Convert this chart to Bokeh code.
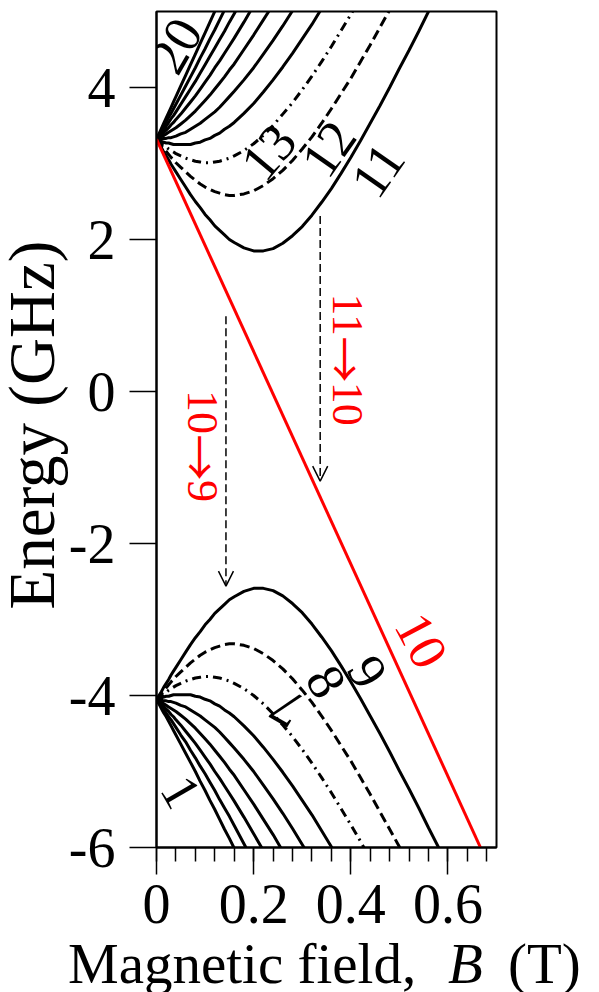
from bokeh.plotting import figure
from bokeh.models import Label, Arrow, OpenHead, FixedTicker, Range1d, Div
from bokeh.layouts import column, row
from bokeh.embed import file_html
from bokeh.resources import INLINE

# ---------------- data (magnetic field in T, energy in GHz) ----------------
B_GRID = [0, 0.005, 0.01, 0.015, 0.02, 0.025, 0.03, 0.035, 0.04, 0.05, 0.06, 0.07, 0.08, 0.09,
          0.10, 0.11, 0.12, 0.13, 0.14, 0.15, 0.16, 0.18, 0.20, 0.22, 0.24, 0.26, 0.28, 0.30,
          0.32, 0.34, 0.36, 0.38, 0.40, 0.42, 0.44, 0.46, 0.48, 0.50, 0.52, 0.54, 0.56, 0.58,
          0.60, 0.62, 0.64, 0.66, 0.68, 0.70]

# lower manifold (levels 1-9)
E01 = [-4.06, -4.11, -4.17, -4.23, -4.28, -4.34, -4.40, -4.46, -4.52, -4.64, -4.76, -4.88, -5.00,
       -5.13, -5.25, -5.38, -5.50, -5.63, -5.76, -5.88, -6.01]
E02 = [-4.06, -4.10, -4.14, -4.19, -4.23, -4.28, -4.32, -4.37, -4.42, -4.52, -4.61, -4.72, -4.82,
       -4.93, -5.03, -5.14, -5.25, -5.37, -5.48, -5.59, -5.71, -5.95, -6.19]
E03 = [-4.06, -4.09, -4.12, -4.15, -4.18, -4.21, -4.25, -4.28, -4.32, -4.39, -4.47, -4.55, -4.63,
       -4.72, -4.81, -4.90, -5.00, -5.09, -5.19, -5.29, -5.39, -5.60, -5.82, -6.04]
E04 = [-4.06, -4.07, -4.09, -4.11, -4.13, -4.15, -4.17, -4.19, -4.21, -4.26, -4.31, -4.37, -4.43,
       -4.50, -4.57, -4.64, -4.72, -4.80, -4.88, -4.97, -5.05, -5.24, -5.43, -5.63, -5.83, -6.05]
E05 = [-4.06, -4.06, -4.06, -4.07, -4.07, -4.08, -4.08, -4.09, -4.10, -4.13, -4.15, -4.19, -4.23,
       -4.27, -4.32, -4.37, -4.42, -4.48, -4.55, -4.62, -4.69, -4.84, -5.00, -5.18, -5.36, -5.55,
       -5.75, -5.96, -6.17]
E06 = [-4.06, -4.05, -4.03, -4.02, -4.01, -4.01, -4.00, -3.99, -3.99, -3.99, -3.99, -3.99, -4.01,
       -4.02, -4.05, -4.07, -4.11, -4.14, -4.19, -4.23, -4.28, -4.40, -4.53, -4.68, -4.84, -5.01,
       -5.19, -5.38, -5.57, -5.78, -5.99, -6.21]
E07 = [-4.06, -4.03, -4.01, -3.98, -3.96, -3.93, -3.91, -3.89, -3.87, -3.84, -3.81, -3.79, -3.77,
       -3.76, -3.75, -3.75, -3.76, -3.77, -3.79, -3.81, -3.84, -3.91, -4.00, -4.11, -4.24, -4.39,
       -4.54, -4.71, -4.89, -5.08, -5.28, -5.49, -5.70, -5.92, -6.15]
E08 = [-4.06, -4.02, -3.98, -3.94, -3.90, -3.86, -3.82, -3.79, -3.75, -3.69, -3.63, -3.57, -3.52,
       -3.47, -3.43, -3.40, -3.37, -3.35, -3.33, -3.32, -3.32, -3.34, -3.38, -3.45, -3.54, -3.65,
       -3.78, -3.93, -4.09, -4.27, -4.46, -4.66, -4.86, -5.08, -5.30, -5.53, -5.76, -5.99, -6.23]
E09 = [-4.06, -4.00, -3.95, -3.89, -3.84, -3.79, -3.73, -3.68, -3.63, -3.53, -3.43, -3.33, -3.24,
       -3.16, -3.07, -3.00, -2.92, -2.86, -2.80, -2.74, -2.70, -2.63, -2.59, -2.59, -2.62, -2.69,
       -2.79, -2.91, -3.06, -3.23, -3.41, -3.61, -3.82, -4.04, -4.27, -4.50, -4.74, -4.99, -5.23,
       -5.48, -5.74, -5.99, -6.25]

# level 10 (straight red line): end points
B10 = [0.0, 0.667]
E10 = [3.32, -6.00]

# upper manifold (levels 11-20)
E11 = [3.32, 3.26, 3.21, 3.15, 3.10, 3.05, 2.99, 2.94, 2.89, 2.79, 2.69, 2.59, 2.50, 2.42, 2.33,
       2.26, 2.18, 2.12, 2.06, 2.00, 1.96, 1.89, 1.85, 1.85, 1.88, 1.95, 2.05, 2.17, 2.32, 2.49,
       2.67, 2.87, 3.08, 3.30, 3.53, 3.76, 4.00, 4.25, 4.49, 4.74, 5.00, 5.25]
E12 = [3.32, 3.28, 3.24, 3.20, 3.16, 3.12, 3.08, 3.05, 3.01, 2.95, 2.89, 2.83, 2.78, 2.73, 2.69,
       2.66, 2.63, 2.61, 2.59, 2.58, 2.58, 2.60, 2.64, 2.71, 2.80, 2.91, 3.04, 3.19, 3.35, 3.53,
       3.72, 3.92, 4.12, 4.34, 4.56, 4.79, 5.02, 5.25]
E13 = [3.32, 3.29, 3.27, 3.24, 3.22, 3.19, 3.17, 3.15, 3.13, 3.10, 3.07, 3.05, 3.03, 3.02, 3.01,
       3.01, 3.02, 3.03, 3.05, 3.07, 3.10, 3.17, 3.26, 3.37, 3.50, 3.65, 3.80, 3.97, 4.15, 4.34,
       4.54, 4.75, 4.96, 5.18]
E14 = [3.32, 3.31, 3.29, 3.28, 3.27, 3.27, 3.26, 3.25, 3.25, 3.25, 3.25, 3.25, 3.27, 3.28, 3.31,
       3.33, 3.37, 3.40, 3.45, 3.49, 3.54, 3.66, 3.79, 3.94, 4.10, 4.27, 4.45, 4.64, 4.83, 5.04]
E15 = [3.32, 3.32, 3.32, 3.33, 3.33, 3.34, 3.34, 3.35, 3.36, 3.39, 3.41, 3.45, 3.49, 3.53, 3.58,
       3.63, 3.68, 3.74, 3.81, 3.88, 3.95, 4.10, 4.26, 4.44, 4.62, 4.81, 5.01]
E16 = [3.32, 3.33, 3.35, 3.37, 3.39, 3.41, 3.43, 3.45, 3.47, 3.52, 3.57, 3.63, 3.69, 3.76, 3.83,
       3.90, 3.98, 4.06, 4.14, 4.23, 4.31, 4.50, 4.69, 4.89, 5.09]
E17 = [3.32, 3.35, 3.38, 3.41, 3.44, 3.47, 3.51, 3.54, 3.58, 3.65, 3.73, 3.81, 3.89, 3.98, 4.07,
       4.16, 4.26, 4.35, 4.45, 4.55, 4.65, 4.86, 5.08]
E18 = [3.32, 3.36, 3.41, 3.45, 3.49, 3.54, 3.59, 3.63, 3.68, 3.78, 3.88, 3.98, 4.08, 4.19, 4.30,
       4.41, 4.52, 4.63, 4.74, 4.86, 4.97, 5.21]
E19 = [3.32, 3.38, 3.43, 3.49, 3.55, 3.61, 3.66, 3.72, 3.78, 3.90, 4.02, 4.14, 4.26, 4.39, 4.51,
       4.64, 4.76, 4.89, 5.02]
E20 = [3.32, 3.39, 3.46, 3.53, 3.60, 3.67, 3.74, 3.81, 3.88, 4.02, 4.16, 4.30, 4.44, 4.58, 4.72,
       4.86, 5.00, 5.14]

LEVELS = [E01, E02, E03, E04, E05, E06, E07, E08, E09, None,
          E11, E12, E13, E14, E15, E16, E17, E18, E19, E20]

# transitions (B, E_start, E_end)
TRANSITIONS = [(0.337, 2.31, -1.18), (0.143, 0.99, -2.56)]

X_TICKS = [0, 0.2, 0.4, 0.6]
X_TICK_LABELS = ["0", "0.2", "0.4", "0.6"]
X_MINOR = [0, 0.04, 0.08, 0.12, 0.16, 0.20, 0.24, 0.28, 0.32, 0.36, 0.40, 0.44, 0.48, 0.52,
           0.56, 0.60, 0.64, 0.68]
Y_TICKS = [-6, -4, -2, 0, 2, 4]
Y_TICK_LABELS = ["-6", "-4", "-2", "0", "2", "4"]

# curve labels: (text, B, E, angle in degrees, colour)
CURVE_LABELS = [("20", 0.040, 4.55, 60, "black"), ("13", 0.2315, 3.15, 50, "black"),
                ("12", 0.355, 3.19, 55, "black"), ("11", 0.456, 2.91, 55, "black"),
                ("10", 0.545, -3.28, -62, "#ff0000"), ("9", 0.434, -3.69, -60, "black"),
                ("8", 0.349, -3.82, -60, "black"), ("7", 0.269, -4.16, 150, "black"),
                ("1", 0.050, -5.27, -60, "black")]
# transition labels "11→10" and "10→9", drawn in three pieces each: (text, B, E, is_arrow)
TRANS_LABELS = [("11", 0.394, 1.01, False), ("\u2192", 0.394, 0.42, True), ("10", 0.394, -0.16, False),
                ("10", 0.0957, -0.27, False), ("\u2192", 0.0957, -0.87, True), ("9", 0.0957, -1.31, False)]

X_LABEL = ["Magnetic field,", "B", "(T)"]
Y_LABEL = "Energy (GHz)"

# ---------------- main figure ----------------
FONT = "Liberation Serif"
p = figure(width=535, height=940, x_range=Range1d(0, 0.70), y_range=Range1d(-6, 5),
           output_backend="svg", toolbar_location=None,
           min_border_left=92, min_border_right=103, min_border_top=11, min_border_bottom=93)
p.xgrid.visible = False
p.ygrid.visible = False
p.outline_line_color = "black"
p.outline_line_width = 2
p.background_fill_color = "white"
p.border_fill_color = None

p.xaxis.ticker = FixedTicker(ticks=X_TICKS, minor_ticks=X_MINOR)
p.xaxis.major_label_overrides = {t: s for t, s in zip(X_TICKS, X_TICK_LABELS)}
p.yaxis.ticker = FixedTicker(ticks=Y_TICKS)
p.yaxis.major_label_overrides = {t: s for t, s in zip(Y_TICKS, Y_TICK_LABELS)}
for ax in (p.xaxis[0], p.yaxis[0]):
    ax.axis_line_width = 2
    ax.major_tick_out = 27
    ax.major_tick_in = 0
    ax.major_tick_line_width = 1.5
    ax.minor_tick_out = 14
    ax.minor_tick_in = 0
    ax.minor_tick_line_width = 1.5
    ax.major_label_text_font = FONT
    ax.major_label_text_font_size = "56px"
    ax.major_label_text_color = "black"
p.xaxis.major_label_standoff = 10
p.yaxis.major_label_standoff = 14
p.yaxis.minor_tick_line_color = None

styles = {12: "10 5", 8: "10 5", 13: "9 5 2 5", 7: "9 5 2 5"}
for i, ev in enumerate(LEVELS):
    n = i + 1
    if ev is None:
        continue
    p.line(B_GRID[:len(ev)], ev, line_color="black", line_width=3,
           line_dash=styles.get(n, "solid"))
p.line(B10, E10, line_color="#ff0000", line_width=3)

for (bx, e0, e1) in TRANSITIONS:
    p.add_layout(Arrow(end=OpenHead(size=15, line_width=1.5, line_color="black"),
                       x_start=bx, y_start=e0, x_end=bx, y_end=e1,
                       line_color="black", line_width=1.5, line_dash="8 4"))

for t, x, y, a, col in CURVE_LABELS:
    p.add_layout(Label(x=x, y=y, text=t, angle=a, angle_units="deg", text_align="center",
                       text_baseline="middle", text_font=FONT, text_font_size="53px",
                       text_color=col))

for t, x, y, is_arrow in TRANS_LABELS:
    p.add_layout(Label(x=x, y=y, text=t, angle=-90, angle_units="deg", text_align="center",
                       text_baseline="middle",
                       text_font="Noto Sans CJK JP" if is_arrow else FONT,
                       text_font_size="46px" if is_arrow else "44px", text_color="#ff0000"))

# ---------------- y-axis title (HTML strip left of the plot) ----------------
y_title = Div(
    text=('<div style="position:relative;width:64px;height:940px;overflow:visible;">'
          '<div style="position:absolute;left:0px;top:675px;width:500px;text-align:center;'
          'transform-origin:0 0;transform:rotate(-90deg);white-space:nowrap;'
          'font-family:\'Liberation Serif\';font-size:65px;line-height:64px;color:#000;">'
          '%s</div></div>') % Y_LABEL,
    width=64, height=940, margin=0)

# ---------------- x-axis title (HTML strip under the plot) ----------------
span = "position:absolute;top:-5px;line-height:57px;white-space:nowrap;"
x_title = Div(
    text=('<div style="position:relative;width:599px;height:52px;overflow:visible;'
          'font-family:\'Liberation Serif\';font-size:57px;color:#000;">'
          '<span style="%sleft:68px;">%s</span>'
          '<span style="%sleft:448px;font-style:italic;">%s</span>'
          '<span style="%sleft:508px;">%s</span></div>')
         % (span, X_LABEL[0], span, X_LABEL[1], span, X_LABEL[2]),
    width=599, height=52, margin=0)

layout = column(row(y_title, p, spacing=0), x_title, spacing=0)
open("out.html", "w").write(file_html(layout, INLINE))
